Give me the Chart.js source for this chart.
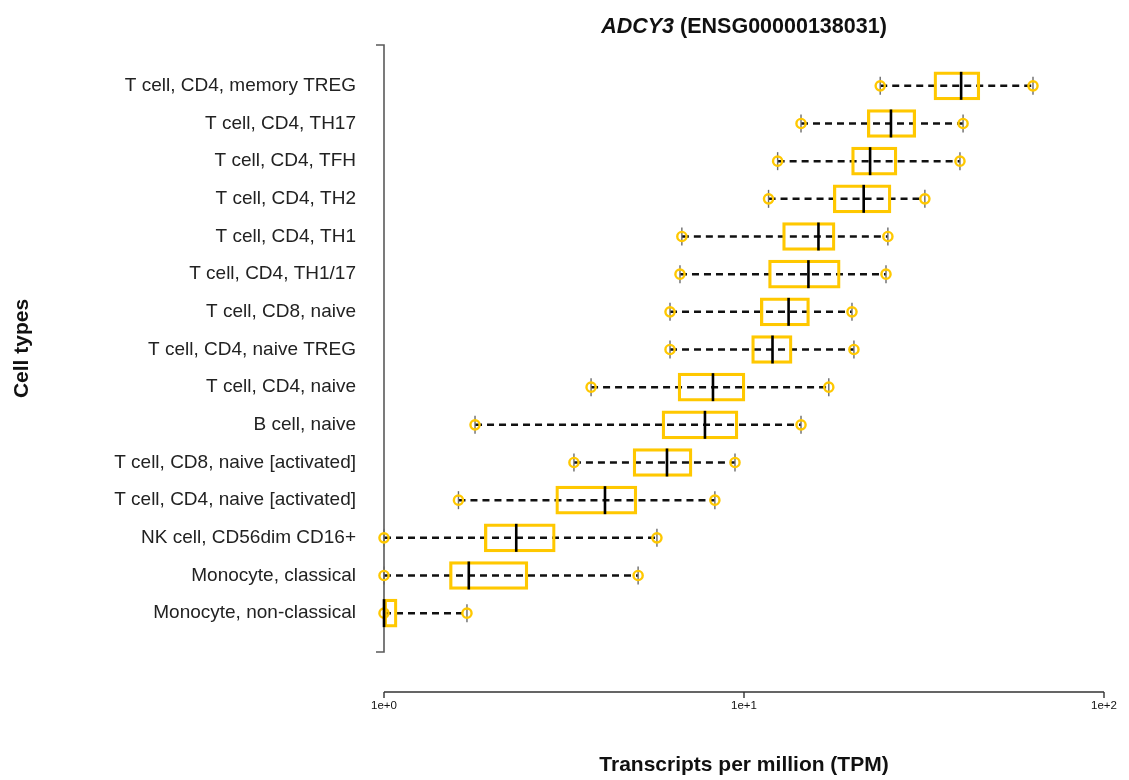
<!DOCTYPE html>
<html>
<head>
<meta charset="utf-8">
<script src="https://cdn.jsdelivr.net/npm/chart.js@4.4.1/dist/chart.umd.min.js"></script>
<style>
  html, body { margin: 0; padding: 0; background: #ffffff; }
  #wrap { width: 1129px; height: 780px; }
</style>
</head>
<body>
<div id="wrap"><canvas id="c" width="1129" height="780"></canvas></div>
<script>
// Cell types, top to bottom
const categories = [
  'T cell, CD4, memory TREG',
  'T cell, CD4, TH17',
  'T cell, CD4, TFH',
  'T cell, CD4, TH2',
  'T cell, CD4, TH1',
  'T cell, CD4, TH1/17',
  'T cell, CD8, naive',
  'T cell, CD4, naive TREG',
  'T cell, CD4, naive',
  'B cell, naive',
  'T cell, CD8, naive [activated]',
  'T cell, CD4, naive [activated]',
  'NK cell, CD56dim CD16+',
  'Monocyte, classical',
  'Monocyte, non-classical'
];

// Five-number summaries (TPM)
const minValues    = [23.9, 14.4, 12.4, 11.7, 6.72, 6.64, 6.23, 6.23, 3.76, 1.79, 3.37, 1.61, 1.00, 1.00, 1.00];
const q1Values     = [33.7, 22.0, 19.9, 17.7, 12.8, 11.7, 11.1, 10.5, 6.56, 5.92, 4.92, 3.00, 1.90, 1.52, 1.00];
const medianValues = [40.1, 25.6, 22.4, 21.5, 16.1, 15.1, 13.3, 12.0, 8.20, 7.79, 6.11, 4.11, 2.33, 1.72, 1.00];
const q3Values     = [45.2, 30.0, 26.6, 25.6, 17.9, 18.5, 15.2, 13.6, 10.06, 9.62, 7.17, 5.04, 2.99, 2.51, 1.087];
const maxValues    = [63.5, 40.6, 39.8, 31.8, 25.1, 24.8, 19.95, 20.2, 17.2, 14.4, 9.44, 8.30, 5.73, 5.08, 1.70];

// Axis ticks
const tickValues = [1, 10, 100];
const tickLabels = ['1e+0', '1e+1', '1e+2'];

const YELLOW = '#ffc800';
const FONT = "Helvetica, 'Liberation Sans', Arial, sans-serif";

// One dashed whisker per cell type, from minimum to maximum
const whiskerSets = categories.map((c, i) => ({
  type: 'line',
  label: 'whisker ' + c,
  data: [{ x: minValues[i], y: c }, { x: maxValues[i], y: c }],
  borderColor: '#111111',
  borderWidth: 2.5,
  borderDash: [7, 5],
  pointRadius: 0,
  fill: false,
  clip: false,
  order: 6
}));

const boxSet = {
  type: 'bar',
  label: 'IQR',
  data: categories.map((c, i) => [q1Values[i], q3Values[i]]),
  backgroundColor: 'rgba(255,255,255,0)',
  borderColor: YELLOW,
  borderWidth: 2.6,
  borderSkipped: false,
  barThickness: 28,
  clip: false,
  order: 5
};

const endPoints = categories.flatMap((c, i) => [{ x: minValues[i], y: c }, { x: maxValues[i], y: c }]);

const endTicks = {
  type: 'line',
  label: 'ends',
  data: endPoints,
  showLine: false,
  pointStyle: 'line',
  rotation: 90,
  pointRadius: 9,
  pointBorderColor: '#6b6b6b',
  pointBorderWidth: 1.4,
  clip: false,
  order: 4
};

const endCircles = {
  type: 'line',
  label: 'ends circles',
  data: endPoints,
  showLine: false,
  pointStyle: 'circle',
  pointRadius: 4.6,
  pointBackgroundColor: 'rgba(0,0,0,0)',
  pointBorderColor: YELLOW,
  pointBorderWidth: 2.4,
  clip: false,
  order: 3
};

const medianSet = {
  type: 'line',
  label: 'median',
  data: categories.map((c, i) => ({ x: medianValues[i], y: c })),
  showLine: false,
  pointStyle: 'line',
  rotation: 90,
  pointRadius: 14,
  pointBorderColor: '#000000',
  pointBorderWidth: 2.6,
  clip: false,
  order: 1
};

// Axis lines and ticks go under the marks, titles on top
const decorations = {
  id: 'decorations',
  beforeDatasetsDraw(chart) {
    const { ctx, chartArea, scales } = chart;
    const xs = scales.x;
    ctx.save();

    // y-axis bracket
    ctx.strokeStyle = '#5a5a5a';
    ctx.lineWidth = 1.6;
    const yTop = chartArea.top - 22;
    const yBot = chartArea.bottom + 20;
    ctx.beginPath();
    ctx.moveTo(chartArea.left - 8, yTop);
    ctx.lineTo(chartArea.left, yTop);
    ctx.lineTo(chartArea.left, yBot);
    ctx.lineTo(chartArea.left - 8, yBot);
    ctx.stroke();

    // x-axis line with downward ticks
    const axY = chartArea.bottom + 60;
    const x0 = xs.getPixelForValue(tickValues[0]);
    const x1 = xs.getPixelForValue(tickValues[tickValues.length - 1]);
    ctx.strokeStyle = '#333333';
    ctx.lineWidth = 1.4;
    ctx.beginPath();
    ctx.moveTo(x0, axY);
    ctx.lineTo(x1, axY);
    tickValues.forEach(v => {
      const px = xs.getPixelForValue(v);
      ctx.moveTo(px, axY);
      ctx.lineTo(px, axY + 6);
    });
    ctx.stroke();
    ctx.restore();
  },
  afterDraw(chart) {
    const { ctx, chartArea } = chart;
    ctx.save();
    ctx.fillStyle = '#111111';
    ctx.textBaseline = 'middle';
    const cx = (chartArea.left + chartArea.right) / 2;

    const italicPart = 'ADCY3';
    const plainPart = ' (ENSG00000138031)';
    ctx.font = 'italic bold 21.5px ' + FONT;
    const w1 = ctx.measureText(italicPart).width;
    ctx.font = 'bold 21.5px ' + FONT;
    const w2 = ctx.measureText(plainPart).width;
    const start = cx - (w1 + w2) / 2;
    ctx.textAlign = 'left';
    ctx.font = 'italic bold 21.5px ' + FONT;
    ctx.fillText(italicPart, start, 27);
    ctx.font = 'bold 21.5px ' + FONT;
    ctx.fillText(plainPart, start + w1, 27);

    ctx.textAlign = 'center';
    ctx.font = 'bold 21px ' + FONT;
    ctx.fillText('Transcripts per million (TPM)', cx, 765);

    const yMid = (chartArea.top - 22 + chartArea.bottom + 20) / 2;
    ctx.translate(22, yMid);
    ctx.rotate(-Math.PI / 2);
    ctx.fillText('Cell types', 0, 0);
    ctx.restore();
  }
};

new Chart(document.getElementById('c'), {
  data: {
    labels: categories,
    datasets: [...whiskerSets, boxSet, endTicks, endCircles, medianSet]
  },
  options: {
    indexAxis: 'y',
    responsive: false,
    animation: false,
    devicePixelRatio: 1,
    layout: { padding: { left: 0, right: 25, top: 67, bottom: 0 } },
    plugins: {
      legend: { display: false },
      tooltip: { enabled: false },
      title: { display: false }
    },
    scales: {
      x: {
        type: 'logarithmic',
        position: 'bottom',
        min: 1,
        max: 100,
        grid: { display: false, drawTicks: false },
        border: { display: false },
        afterBuildTicks(scale) { scale.ticks = tickValues.map(v => ({ value: v })); },
        afterFit(scale) {
          scale.height = 148;
          scale.paddingLeft = 0;
          scale.paddingRight = 0;
        },
        ticks: {
          autoSkip: false,
          maxRotation: 0,
          padding: 67,
          color: '#111111',
          font: { family: FONT, size: 11.5 },
          callback(value, index) { return tickLabels[index]; }
        }
      },
      y: {
        type: 'category',
        offset: true,
        grid: { display: false, drawTicks: false },
        border: { display: false },
        afterFit(scale) {
          scale.width = 384;
          scale.paddingTop = 0;
          scale.paddingBottom = 0;
        },
        ticks: {
          autoSkip: false,
          padding: 28,
          color: '#222222',
          font: { family: FONT, size: 19 }
        }
      }
    }
  },
  plugins: [decorations]
});
</script>
</body>
</html>
